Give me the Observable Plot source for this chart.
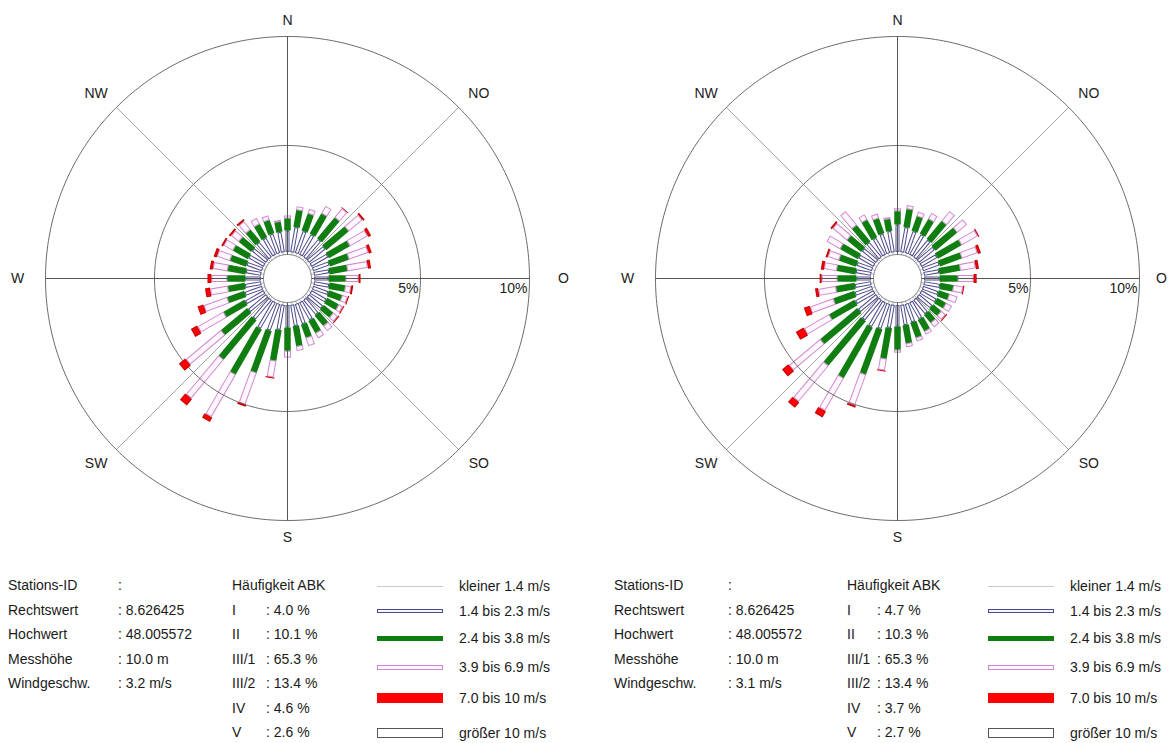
<!DOCTYPE html>
<html>
<head>
<meta charset="utf-8">
<script src="https://cdn.jsdelivr.net/npm/d3@7"></script>
<script src="https://cdn.jsdelivr.net/npm/@observablehq/plot@0.6"></script>
<style>
  body { margin: 0; background: #fff; font-family: "Liberation Sans", Arial, sans-serif; }
  #page { position: relative; width: 1174px; height: 743px; overflow: hidden; background: #fff; }
  .t { position: absolute; font-size: 14px; line-height: 16px; color: #1a1a1a; white-space: nowrap; }
  .sw { position: absolute; box-sizing: border-box; }
  .rose { position: absolute; top: 0; }
</style>
</head>
<body>
<div id="page"></div>
<script>
// ---------------- DATA ----------------
const directions = [0,10,20,30,40,50,60,70,80,90,100,110,120,130,140,150,160,170,180,190,200,210,220,230,240,250,260,270,280,290,300,310,320,330,340,350];
const speedClasses = ["kleiner 1.4 m/s", "1.4 bis 2.3 m/s", "2.4 bis 3.8 m/s", "3.9 bis 6.9 m/s", "7.0 bis 10 m/s", "größer 10 m/s"];

// left rose: frequency (%) per direction and speed class
const leftC1 = [0.12,0.12,0.12,0.12,0.12,0.12,0.12,0.12,0.12,0.12,0.12,0.12,0.12,0.12,0.12,0.12,0.12,0.12,0.12,0.12,0.12,0.12,0.12,0.12,0.12,0.12,0.12,0.12,0.12,0.12,0.12,0.12,0.12,0.12,0.12,0.12];
const leftC2 = [0.98,1.16,1.07,1.07,1.07,0.98,0.89,0.80,0.71,0.66,0.71,0.75,0.80,0.84,0.89,0.94,0.98,0.98,1.03,1.16,1.30,1.39,1.16,1.07,0.98,0.84,0.75,0.71,0.71,0.75,0.80,0.84,0.89,0.89,0.94,0.94];
const leftC3 = [0.55,0.78,0.83,1.06,1.24,1.33,1.10,0.92,0.83,0.78,0.73,0.64,0.60,0.55,0.60,0.64,0.64,0.92,1.06,1.42,2.02,2.39,2.34,1.56,1.10,0.83,0.78,0.83,0.83,0.78,0.78,0.73,0.69,0.69,0.64,0.46];
const leftC4 = [0.14,0.18,0.23,0.41,0.55,0.83,0.96,0.96,0.96,0.60,0.28,0.28,0.23,0.28,0.32,0.28,0.41,0.23,0.32,0.78,1.56,2.25,2.34,2.11,1.38,1.15,0.83,0.73,0.69,0.64,0.50,0.46,0.50,0.32,0.23,0.09];
const leftC5 = [0,0,0,0,0.03,0.09,0.14,0.14,0.14,0.09,0.09,0.05,0.05,0.05,0,0,0,0,0,0.05,0.09,0.23,0.37,0.37,0.32,0.28,0.23,0.18,0.14,0.14,0.09,0.09,0.09,0,0,0];
const leftC6 = [0,0,0,0,0,0,0,0,0,0,0,0,0,0,0,0,0,0,0,0,0,0,0,0,0,0,0,0,0,0,0,0,0,0,0,0];

// right rose
const rightC1 = [0.12,0.12,0.12,0.12,0.12,0.12,0.12,0.12,0.12,0.12,0.12,0.12,0.12,0.12,0.12,0.12,0.12,0.12,0.12,0.12,0.12,0.12,0.12,0.12,0.12,0.12,0.12,0.12,0.12,0.12,0.12,0.12,0.12,0.12,0.12,0.12];
const rightC2 = [1.26,1.16,1.07,1.07,1.03,0.94,0.84,0.80,0.71,0.71,0.75,0.75,0.80,0.80,0.84,0.89,0.89,0.94,0.98,1.07,1.21,1.30,1.21,1.07,0.98,0.84,0.75,0.66,0.71,0.75,0.80,0.84,0.89,0.89,0.94,0.98];
const rightC3 = [0.60,0.83,0.69,0.78,1.06,1.28,1.24,1.06,0.96,0.83,0.60,0.50,0.46,0.46,0.46,0.60,0.73,0.83,1.06,1.42,2.20,2.66,2.66,2.20,1.33,1.01,0.87,0.87,0.87,0.83,0.92,0.83,0.96,0.92,0.73,0.55];
const rightC4 = [0.14,0.18,0.23,0.32,0.60,0.60,0.87,0.78,0.73,0.73,0.46,0.41,0.32,0.28,0.28,0.18,0.18,0.18,0.14,0.55,1.51,1.74,2.16,1.88,1.33,1.15,0.83,0.73,0.60,0.55,0.73,0.87,0.83,0.28,0.23,0.09];
const rightC5 = [0,0,0,0,0,0,0.05,0.14,0.14,0.14,0.05,0,0,0.05,0,0,0,0,0,0.05,0.09,0.32,0.32,0.37,0.41,0.28,0.14,0.09,0.14,0.09,0,0.09,0,0,0,0];
const rightC6 = [0,0,0,0,0,0,0,0,0,0,0,0,0,0,0,0,0,0,0,0,0,0,0,0,0,0,0,0,0,0,0,0,0,0,0,0];

const compassLabels = ["N", "NO", "O", "SO", "S", "SW", "W", "NW"];
const ringPercents = [5, 10];

const infoLabels = ["Stations-ID", "Rechtswert", "Hochwert", "Messhöhe", "Windgeschw."];
const infoLeft = [":", ": 8.626425", ": 48.005572", ": 10.0 m", ": 3.2 m/s"];
const infoRight = [":", ": 8.626425", ": 48.005572", ": 10.0 m", ": 3.1 m/s"];
const abkTitle = "Häufigkeit ABK";
const abkClasses = ["I", "II", "III/1", "III/2", "IV", "V"];
const abkLeft = [4.0, 10.1, 65.3, 13.4, 4.6, 2.6];
const abkRight = [4.7, 10.3, 65.3, 13.4, 3.7, 2.7];

// ---------------- STYLE / LAYOUT ----------------
const PX = 21.8;          // pixels per percent
const HOLE = 24 / PX;     // calm circle radius (in percent units)
const classStyles = [
  {stroke: "#c4c4c4", width: 1},
  {stroke: "#4a4a8a", width: 4, fill: "#ffffff", inner: 2},
  {stroke: "#0f7d0f", width: 6.5, solid: true},
  {stroke: "#cf8acf", width: 7, fill: "#fff7ff", inner: 5},
  {stroke: "#c80000", width: 9, fill: "#ff0000", inner: 7, solid: true},
  {stroke: "#555555", width: 9, fill: "#ffffff", inner: 7}
];
const compassAngles = [0, 46, 90, 134, 180, 226, 270, 314];
const compassRadiusLeft = [258, 266, 276, 266, 259, 266, 270, 266];
const compassRadiusRight = [258, 266, 264, 266, 259, 266, 270, 266];

const X = (deg, r) => r * Math.sin(deg * Math.PI / 180);
const Y = (deg, r) => r * Math.cos(deg * Math.PI / 180);

function rose(classes, width, compassRadiusPx) {
  const height = 560, cx = 287, cy = 278;
  const segs = [];
  directions.forEach((d, i) => {
    let r = HOLE;
    classes.forEach((arr, k) => {
      const v = arr[i];
      if (v > 0) segs.push({dir: d, k, r1: r, r2: r + v});
      r += v;
    });
  });
  const e = 1 / PX;
  const barMarks = (solid) => {
    const out = [];
    classStyles.forEach((s, k) => {
      if (!!s.solid !== solid) return;
      const data = segs.filter(g => g.k === k);
      out.push(Plot.link(data, {
        x1: g => X(g.dir, g.r1), y1: g => Y(g.dir, g.r1),
        x2: g => X(g.dir, g.r2), y2: g => Y(g.dir, g.r2),
        stroke: s.stroke, strokeWidth: s.width, strokeLinecap: "butt"
      }));
      if (s.inner) {
        const inner = data.filter(g => g.r2 - g.r1 > 2.5 * e);
        out.push(Plot.link(inner, {
          x1: g => X(g.dir, g.r1 + e), y1: g => Y(g.dir, g.r1 + e),
          x2: g => X(g.dir, g.r2 - e), y2: g => Y(g.dir, g.r2 - e),
          stroke: s.fill, strokeWidth: s.inner, strokeLinecap: "butt"
        }));
      }
    });
    return out;
  };

  const rings = [HOLE, HOLE + ringPercents[0], HOLE + ringPercents[1]];
  const ringPts = rings.flatMap((r, j) => d3.range(0, 361, 1).map(a => ({j, x: X(a, r), y: Y(a, r)})));
  const mainSpokes = [0, 90, 180, 270];
  const diagSpokes = [45, 135, 225, 315];
  const outer = HOLE + ringPercents[1];
  const compass = compassLabels.map((l, i) => ({l, a: compassAngles[i], r: compassRadiusPx[i] / PX}));

  return Plot.plot({
    width, height, margin: 0,
    x: {domain: [-cx / PX, (width - cx) / PX], axis: null},
    y: {domain: [-(height - cy) / PX, cy / PX], axis: null},
    style: {background: "transparent", fontFamily: "'Liberation Sans', Arial, sans-serif", overflow: "visible"},
    marks: [
      ...barMarks(false),
      Plot.link(diagSpokes, {x1: a => X(a, HOLE), y1: a => Y(a, HOLE), x2: a => X(a, outer), y2: a => Y(a, outer), stroke: "#8c8c8c", strokeWidth: 0.8}),
      Plot.link(mainSpokes, {x1: a => X(a, HOLE), y1: a => Y(a, HOLE), x2: a => X(a, outer), y2: a => Y(a, outer), stroke: "#555", strokeWidth: 1}),
      Plot.line(ringPts, {x: "x", y: "y", z: "j", stroke: "#5a5a5a", strokeWidth: 0.9}),
      ...barMarks(true),
      Plot.text(ringPercents, {x: p => HOLE + p, y: 0, text: p => p + "%", textAnchor: "end", dx: -2, dy: 10, fontSize: 14, fill: "#222"}),
      Plot.text(compass, {x: c => X(c.a, c.r), y: c => Y(c.a, c.r), text: "l", fontSize: 14, fill: "#222"})
    ]
  });
}

// ---------------- BUILD PAGE ----------------
const page = document.getElementById("page");
const roseLeft = rose([leftC1, leftC2, leftC3, leftC4, leftC5, leftC6], 600, compassRadiusLeft);
roseLeft.classList.add("rose"); roseLeft.style.left = "0px";
page.appendChild(roseLeft);
const roseRight = rose([rightC1, rightC2, rightC3, rightC4, rightC5, rightC6], 564, compassRadiusRight);
roseRight.classList.add("rose"); roseRight.style.left = "610px";
page.appendChild(roseRight);

const infoRows = [585, 610, 634, 659, 683, 708, 732];
const legendRows = [586, 611, 638, 667, 698, 733];
const swatchStyles = [
  {h: 1, bg: "#c8c8c8", border: "none"},
  {h: 4, bg: "#f6f6ff", border: "1px solid #4a4a8a"},
  {h: 5, bg: "#0f7d0f", border: "none"},
  {h: 5, bg: "#fff7ff", border: "1px solid #cf8acf"},
  {h: 10, bg: "#ff0000", border: "none"},
  {h: 10, bg: "#ffffff", border: "1px solid #555"}
];

function addText(txt, x, yc) {
  const d = document.createElement("div");
  d.className = "t";
  d.textContent = txt;
  d.style.left = x + "px";
  d.style.top = (yc - 8) + "px";
  page.appendChild(d);
}

function panelLegend(cols, info, abk) {
  infoLabels.forEach((l, i) => addText(l, cols[0], infoRows[i]));
  info.forEach((l, i) => addText(l, cols[1], infoRows[i]));
  addText(abkTitle, cols[2], infoRows[0]);
  abkClasses.forEach((l, i) => addText(l, cols[2], infoRows[i + 1]));
  abk.forEach((v, i) => addText(": " + v.toFixed(1) + " %", cols[3], infoRows[i + 1]));
  speedClasses.forEach((l, i) => {
    const s = swatchStyles[i];
    const d = document.createElement("div");
    d.className = "sw";
    d.style.left = cols[4] + "px";
    d.style.width = "66px";
    d.style.height = s.h + "px";
    d.style.top = (legendRows[i] - s.h / 2) + "px";
    d.style.background = s.bg;
    d.style.border = s.border;
    page.appendChild(d);
    addText(l, cols[5], legendRows[i]);
  });
}
panelLegend([8, 118, 232, 266, 377, 459], infoLeft, abkLeft);
panelLegend([614, 728, 847, 877, 988, 1070], infoRight, abkRight);
</script>
</body>
</html>
